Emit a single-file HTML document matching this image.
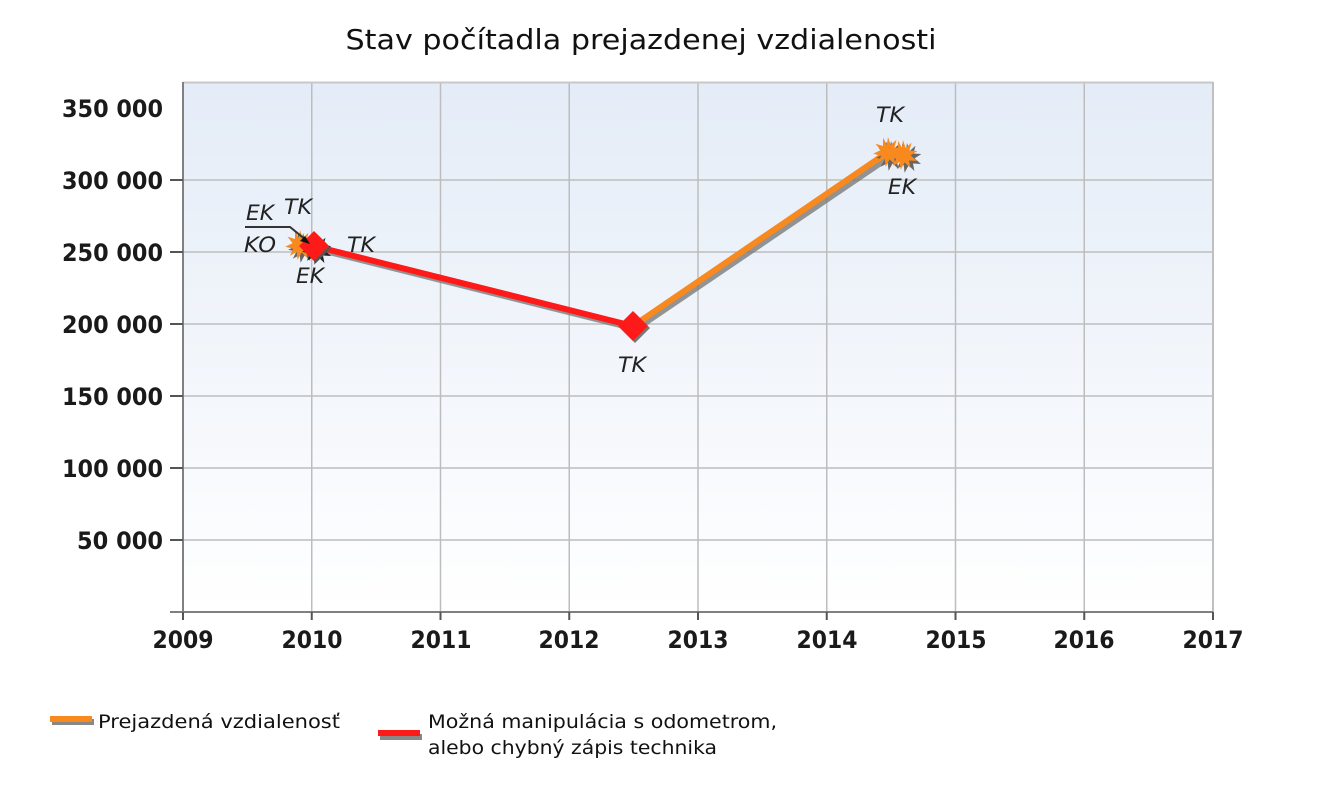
<!DOCTYPE html>
<html><head><meta charset="utf-8"><style>
html,body{margin:0;padding:0;background:#fff;}
svg{display:block;}
text{font-family:"DejaVu Sans","Liberation Sans",sans-serif;}
</style></head><body>
<svg width="1326" height="802" viewBox="0 0 1326 802" xmlns="http://www.w3.org/2000/svg">
<defs>
<linearGradient id="bg" x1="0" y1="0" x2="0" y2="1">
<stop offset="0" stop-color="#e4ecf7"/>
<stop offset="1" stop-color="#ffffff"/>
</linearGradient>
<polygon id="star" points="0,-15 2.6,-7 8.5,-12.2 6.4,-4.5 14.4,-4 7.6,0.4 14,6 6,5.5 7.4,13 1.6,7.4 -2.4,14.8 -3.3,7 -10.2,10.8 -6.7,3.8 -14.8,1.8 -7.4,-1.9 -12.5,-8.2 -5,-6 -5,-14.2 -1.1,-7.2"/>
</defs>
<text x="641" y="49" text-anchor="middle" font-size="28" fill="#111" textLength="591" lengthAdjust="spacingAndGlyphs">Stav počítadla prejazdenej vzdialenosti</text>
<rect x="183" y="82" width="1030" height="530" fill="url(#bg)"/>
<g stroke="#bdbdbd" stroke-width="1.5">
<line x1="311.75" y1="82" x2="311.75" y2="612"/>
<line x1="440.5" y1="82" x2="440.5" y2="612"/>
<line x1="569.25" y1="82" x2="569.25" y2="612"/>
<line x1="698" y1="82" x2="698" y2="612"/>
<line x1="826.75" y1="82" x2="826.75" y2="612"/>
<line x1="955.5" y1="82" x2="955.5" y2="612"/>
<line x1="1084.25" y1="82" x2="1084.25" y2="612"/>
<line x1="183" y1="180" x2="1213" y2="180"/>
<line x1="183" y1="252" x2="1213" y2="252"/>
<line x1="183" y1="324" x2="1213" y2="324"/>
<line x1="183" y1="396" x2="1213" y2="396"/>
<line x1="183" y1="468" x2="1213" y2="468"/>
<line x1="183" y1="540" x2="1213" y2="540"/>
<line x1="183" y1="82.5" x2="1213" y2="82.5" stroke="#c8c8c8" stroke-width="2"/>
<line x1="1213" y1="82" x2="1213" y2="612" stroke="#c0c0c0" stroke-width="2"/>
</g>
<line x1="183" y1="82" x2="183" y2="612" stroke="#808080" stroke-width="2"/>
<line x1="170" y1="612" x2="1213" y2="612" stroke="#808080" stroke-width="2"/>
<g stroke="#555" stroke-width="2">
<line x1="170" y1="180" x2="183" y2="180"/>
<line x1="170" y1="252" x2="183" y2="252"/>
<line x1="170" y1="324" x2="183" y2="324"/>
<line x1="170" y1="396" x2="183" y2="396"/>
<line x1="170" y1="468" x2="183" y2="468"/>
<line x1="170" y1="540" x2="183" y2="540"/>
<line x1="183" y1="612" x2="183" y2="620"/>
<line x1="311.75" y1="612" x2="311.75" y2="620"/>
<line x1="440.5" y1="612" x2="440.5" y2="620"/>
<line x1="569.25" y1="612" x2="569.25" y2="620"/>
<line x1="698" y1="612" x2="698" y2="620"/>
<line x1="826.75" y1="612" x2="826.75" y2="620"/>
<line x1="955.5" y1="612" x2="955.5" y2="620"/>
<line x1="1084.25" y1="612" x2="1084.25" y2="620"/>
<line x1="1213" y1="612" x2="1213" y2="620"/>
</g>
<g font-size="24" font-weight="bold" fill="#1a1a1a" text-anchor="end">
<text x="163" y="117" textLength="101" lengthAdjust="spacingAndGlyphs">350 000</text>
<text x="163" y="189" textLength="101" lengthAdjust="spacingAndGlyphs">300 000</text>
<text x="163" y="261" textLength="101" lengthAdjust="spacingAndGlyphs">250 000</text>
<text x="163" y="333" textLength="101" lengthAdjust="spacingAndGlyphs">200 000</text>
<text x="163" y="405" textLength="101" lengthAdjust="spacingAndGlyphs">150 000</text>
<text x="163" y="477" textLength="101" lengthAdjust="spacingAndGlyphs">100 000</text>
<text x="163" y="549" textLength="86" lengthAdjust="spacingAndGlyphs">50 000</text>
</g>
<g font-size="24" font-weight="bold" fill="#1a1a1a" text-anchor="middle">
<text x="183" y="648" textLength="61" lengthAdjust="spacingAndGlyphs">2009</text>
<text x="312" y="648" textLength="61" lengthAdjust="spacingAndGlyphs">2010</text>
<text x="441" y="648" textLength="61" lengthAdjust="spacingAndGlyphs">2011</text>
<text x="569" y="648" textLength="61" lengthAdjust="spacingAndGlyphs">2012</text>
<text x="698" y="648" textLength="61" lengthAdjust="spacingAndGlyphs">2013</text>
<text x="827" y="648" textLength="61" lengthAdjust="spacingAndGlyphs">2014</text>
<text x="956" y="648" textLength="61" lengthAdjust="spacingAndGlyphs">2015</text>
<text x="1084" y="648" textLength="61" lengthAdjust="spacingAndGlyphs">2016</text>
<text x="1213" y="648" textLength="61" lengthAdjust="spacingAndGlyphs">2017</text>
</g>
<!-- shadows -->
<polyline points="636,329 891,156" fill="none" stroke="#7a7a7a" stroke-opacity="0.8" stroke-width="6"/>
<polyline points="317,249 636,329" fill="none" stroke="#7a7a7a" stroke-opacity="0.8" stroke-width="6"/>
<!-- orange line -->
<polyline points="633,326 888,152" fill="none" stroke="#f7891f" stroke-width="6"/>
<!-- red line -->
<polyline points="314,246 633,326" fill="none" stroke="#ff1a1a" stroke-width="6"/>
<!-- stars 2014.5 -->
<use href="#star" x="891" y="156" fill="#666"/>
<use href="#star" x="907" y="158" fill="#666"/>
<use href="#star" x="888" y="152" fill="#f7891f"/>
<use href="#star" x="903" y="155" fill="#f7891f"/>
<!-- 2010 -->
<use href="#star" x="303" y="248" fill="#666"/>
<use href="#star" x="300" y="245" fill="#f7891f"/>
<use href="#star" x="317" y="250" fill="#222"/>
<polygon points="314,231 329,246 314,261 299,246" fill="#555" transform="translate(2,2)"/>
<polygon points="314,231 329,246 314,261 299,246" fill="#ff1a1a"/>
<polygon points="633,311 648,326 633,341 618,326" fill="#777" transform="translate(2,2)"/>
<polygon points="633,311 648,326 633,341 618,326" fill="#ff1a1a"/>
<!-- leader -->
<polyline points="245,227 290,227 306,240" fill="none" stroke="#333" stroke-width="2"/>
<polygon points="310,244 300,241 305,236" fill="#111"/>
<g font-size="21" font-style="italic" fill="#222">
<text x="246" y="220" textLength="28" lengthAdjust="spacingAndGlyphs">EK</text>
<text x="284" y="214" textLength="28" lengthAdjust="spacingAndGlyphs">TK</text>
<text x="244" y="252" textLength="32" lengthAdjust="spacingAndGlyphs">KO</text>
<text x="347" y="252" textLength="28" lengthAdjust="spacingAndGlyphs">TK</text>
<text x="296" y="283" textLength="28" lengthAdjust="spacingAndGlyphs">EK</text>
<text x="618" y="372" textLength="28" lengthAdjust="spacingAndGlyphs">TK</text>
<text x="876" y="122" textLength="28" lengthAdjust="spacingAndGlyphs">TK</text>
<text x="888" y="194" textLength="28" lengthAdjust="spacingAndGlyphs">EK</text>
</g>
<!-- legend -->
<rect x="52" y="719" width="42" height="6" fill="#888"/>
<rect x="50" y="716" width="42" height="6" fill="#f7891f"/>
<rect x="380" y="734" width="42" height="6" fill="#888"/>
<rect x="378" y="730" width="42" height="6" fill="#ff1a1a"/>
<g font-size="19" fill="#111">
<text x="98" y="728" textLength="242" lengthAdjust="spacingAndGlyphs">Prejazdená vzdialenosť</text>
<text x="428" y="728" textLength="349" lengthAdjust="spacingAndGlyphs">Možná manipulácia s odometrom,</text>
<text x="428" y="754" textLength="289" lengthAdjust="spacingAndGlyphs">alebo chybný zápis technika</text>
</g>
</svg>
</body></html>
